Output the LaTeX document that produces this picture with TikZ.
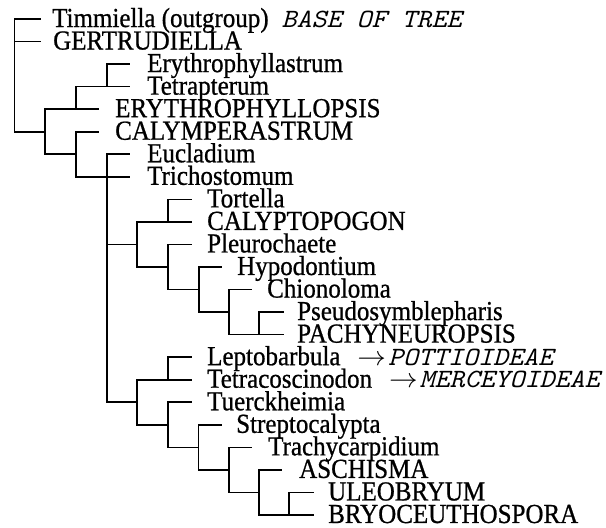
\documentclass[tikz,border=0pt]{standalone}
\usepackage{fontspec}
\usepackage{graphicx}
\setmainfont{Liberation Serif}[FakeBold=0.8]
\newcommand\courit[1]{\scalebox{1.19}[1]{\fontsize{24}{24}\selectfont\ttfamily\itshape #1}}
\newcommand\vs[1]{\scalebox{1}[1.1]{#1}}
\newcommand\famto[1]{\hspace{17pt}\scalebox{1.15}[1]{$\rightarrow$}\hspace{2pt}\courit{#1}}
\newcommand\Y[1]{19+22.545*#1}
% clade: name, x, top row, bottom row
\newcommand\clade[4]{%
  \coordinate (#1-t) at (#2,{\Y{#3}});
  \coordinate (#1-b) at (#2,{\Y{#4}});
  \draw[br] (#1-t) -- (#1-b);}
% attach: child, child x, row, parent
\newcommand\attach[4]{%
  \coordinate (#1-a) at (#2,{\Y{#3}});
  \draw[br] (#4-t |- #1-a) -- (#1-a);}
% leaf: name, row, parent, line end x, text x, text
\newcommand\leaf[6]{%
  \coordinate (#1-e) at (#4,{\Y{#2}});
  \node[taxon] (#1) at (#5,{\Y{#2}+8}) {\vs{#6}};
  \draw[br] (#3-t |- #1-e) -- (#1-e);}
\begin{document}
\begin{tikzpicture}[x=1pt,y=-1pt,
  br/.style={line width=1.6pt, line cap=rect},
  taxon/.style={anchor=base west, inner sep=0pt, font=\fontsize{25}{25}\selectfont}]
\useasboundingbox (0,0) rectangle (606,528);
% internal nodes
\clade{Root}{14.5}{0}{5}
\clade{A}{45}{4}{6}
\clade{B}{76}{3}{4}
\clade{ET}{107}{2}{3}
\clade{C}{76}{5}{7}
\clade{D}{107}{6}{17}
\clade{E}{137}{9}{11}
\clade{TC}{168}{8}{9}
\clade{G}{168}{10}{12}
\clade{H}{199}{11}{13}
\clade{I}{229}{12}{14}
\clade{J}{259}{13}{14}
\clade{F}{137}{16}{18}
\clade{LT}{168}{15}{16}
\clade{K}{168}{17}{19}
\clade{L}{198.5}{18}{20}
\clade{M}{229}{19}{21}
\clade{N}{259}{20}{22}
\clade{O}{289}{21}{22}
% connectors between internal nodes
\attach{A}{45}{5}{Root}
\attach{B}{76}{4}{A}
\attach{ET}{107}{3}{B}
\attach{C}{76}{6}{A}
\attach{D}{107}{7}{C}
\attach{E}{137}{10}{D}
\attach{TC}{168}{9}{E}
\attach{G}{168}{11}{E}
\attach{H}{199}{12}{G}
\attach{I}{229}{13}{H}
\attach{J}{259}{14}{I}
\attach{F}{137}{17}{D}
\attach{LT}{168}{16}{F}
\attach{K}{168}{18}{F}
\attach{L}{198.5}{19}{K}
\attach{M}{229}{20}{L}
\attach{N}{259}{21}{M}
\attach{O}{289}{22}{N}
% leaves
\leaf{timm}{0}{Root}{40}{52}{Timmiella (outgroup)\hspace{13pt}\courit{BASE OF TREE}}
\leaf{gert}{1}{Root}{40}{53}{GERTRUDIELLA}
\leaf{eryl}{2}{ET}{129}{147}{Erythrophyllastrum}
\leaf{tetp}{3}{ET}{129}{147}{Tetrapterum}
\leaf{eryp}{4}{B}{98}{115}{ERYTHROPHYLLOPSIS}
\leaf{caly}{5}{C}{98}{115}{CALYMPERASTRUM}
\leaf{eucl}{6}{D}{129}{147}{Eucladium}
\leaf{tric}{7}{D}{129}{147}{Trichostomum}
\leaf{tort}{8}{TC}{191}{207}{Tortella}
\leaf{calp}{9}{TC}{191}{207}{CALYPTOPOGON}
\leaf{pleu}{10}{G}{191}{207}{Pleurochaete}
\leaf{hypo}{11}{H}{221}{237}{Hypodontium}
\leaf{chio}{12}{I}{251}{267}{Chionoloma}
\leaf{pseu}{13}{J}{283}{297}{Pseudosymblepharis}
\leaf{pach}{14}{J}{283}{297}{PACHYNEUROPSIS}
\leaf{lept}{15}{LT}{191}{207}{Leptobarbula\famto{POTTIOIDEAE}}
\leaf{tetc}{16}{LT}{191}{207}{Tetracoscinodon\famto{MERCEYOIDEAE}}
\leaf{tuer}{17}{K}{191}{207}{Tuerckheimia}
\leaf{stre}{18}{L}{221}{236}{Streptocalypta}
\leaf{trac}{19}{M}{251}{268}{Trachycarpidium}
\leaf{asch}{20}{N}{281}{299}{ASCHISMA}
\leaf{uleo}{21}{O}{313}{328}{ULEOBRYUM}
\leaf{bryo}{22}{O}{313}{328}{BRYOCEUTHOSPORA}
\end{tikzpicture}
\end{document}
